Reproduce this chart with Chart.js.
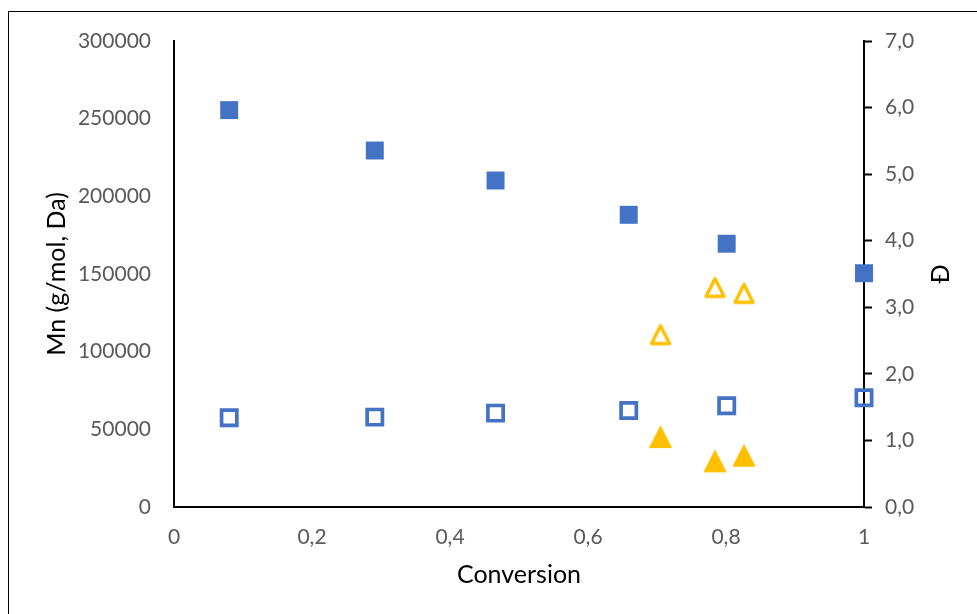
<!DOCTYPE html>
<html>
<head>
<meta charset="utf-8">
<script src="https://cdn.jsdelivr.net/npm/chart.js@4.4.1/dist/chart.umd.min.js"></script>
<style>
  html, body { margin: 0; padding: 0; background: #fff; overflow: hidden; }
  #wrap { position: relative; width: 977px; height: 614px; }
  #frame { position: absolute; left: 8px; top: 11px; width: 1200px; height: 800px;
           border-left: 1.5px solid #000; border-top: 1.5px solid #000; pointer-events: none; }
  canvas { position: absolute; left: 0; top: 0; }
</style>
</head>
<body>
<div id="wrap">
  <canvas id="c" width="977" height="614"></canvas>
  <div id="frame"></div>
</div>
<script>
// Conversion of the runs (x)
const convSquares   = [0.080, 0.291, 0.466, 0.659, 0.801, 1.000];
const convTriangles = [0.705, 0.784, 0.826];

// Number-average molar mass, g/mol (left axis)
const mnSquares   = [255500, 229500, 210200, 188100, 169500, 150500];
const mnTriangles = [45000, 29400, 33000];

// Dispersity Đ (right axis)
const dSquares   = [1.34, 1.35, 1.41, 1.45, 1.52, 1.64];
const dTriangles = [2.59, 3.30, 3.21];

// Tick labels
const convTickLabels = ['0', '0,2', '0,4', '0,6', '0,8', '1'];
const mnTickLabels   = ['0', '50000', '100000', '150000', '200000', '250000', '300000'];
const dTickLabels    = ['0,0', '1,0', '2,0', '3,0', '4,0', '5,0', '6,0', '7,0'];

const BLUE = '#4472C4';
const GOLD = '#FFC000';
const FONT = 'Lato, "Open Sans", sans-serif';

function pairs(xs, ys) { return xs.map((x, i) => ({ x: x, y: ys[i] })); }

// Triangle markers drawn into small canvases (base as wide as the marker is tall)
function triangleMarker(filled) {
  const s = 24, cv = document.createElement('canvas');
  cv.width = s; cv.height = s;
  const g = cv.getContext('2d');
  g.beginPath();
  if (filled) {
    g.moveTo(s / 2, 1.2); g.lineTo(s - 1.2, s - 1.5); g.lineTo(1.2, s - 1.5);
    g.closePath(); g.fillStyle = GOLD; g.lineJoin = 'round'; g.lineWidth = 1.2;
    g.strokeStyle = GOLD; g.fill(); g.stroke();
  } else {
    g.moveTo(s / 2, 3.2); g.lineTo(s - 3.0, s - 3.0); g.lineTo(3.0, s - 3.0);
    g.closePath(); g.strokeStyle = GOLD; g.lineWidth = 3.4; g.lineJoin = 'round'; g.stroke();
  }
  return cv;
}
const triFilled = triangleMarker(true);
const triOpen = triangleMarker(false);

// Right-axis title reads bottom-to-top like the left one
const rightTitle = {
  id: 'rightTitle',
  afterDraw(chart) {
    const s = chart.scales.yD, ctx = chart.ctx;
    ctx.save();
    ctx.translate(s.right - 36, (s.top + s.bottom) / 2);
    ctx.rotate(-Math.PI / 2);
    ctx.font = '25px ' + FONT;
    ctx.fillStyle = '#000';
    ctx.textAlign = 'center';
    ctx.textBaseline = 'middle';
    ctx.fillText('Đ', 0, 0);
    ctx.restore();
  }
};

new Chart(document.getElementById('c'), {
  type: 'scatter',
  data: {
    datasets: [
      { label: 'Mn', data: pairs(convSquares, mnSquares), yAxisID: 'yMn',
        pointStyle: 'rect', pointRadius: 12.7, backgroundColor: BLUE, borderWidth: 0, clip: false },
      { label: 'Đ', data: pairs(convSquares, dSquares), yAxisID: 'yD',
        pointStyle: 'rect', pointRadius: 10.8, backgroundColor: 'rgba(0,0,0,0)',
        borderColor: BLUE, borderWidth: 3.7, clip: false },
      { label: 'Mn', data: pairs(convTriangles, mnTriangles), yAxisID: 'yMn',
        pointStyle: triFilled, backgroundColor: GOLD, clip: false },
      { label: 'Đ', data: pairs(convTriangles, dTriangles), yAxisID: 'yD',
        pointStyle: triOpen, backgroundColor: GOLD, clip: false }
    ]
  },
  options: {
    responsive: false,
    animation: false,
    devicePixelRatio: 1,
    layout: { padding: { top: 41, left: 0, right: 0, bottom: 0 } },
    plugins: { legend: { display: false }, tooltip: { enabled: false } },
    scales: {
      x: {
        type: 'linear', position: 'bottom', min: 0, max: 1,
        afterFit(s) { s.height = 107; },
        grid: { display: false, drawTicks: false },
        border: { display: true, color: '#000', width: 2 },
        ticks: { stepSize: 0.2, padding: 18, color: '#595959', font: { family: FONT, size: 21 },
                 callback: (v, i) => convTickLabels[i] },
        title: { display: true, text: 'Conversion', color: '#000',
                 font: { family: FONT, size: 25 }, padding: { top: 0, bottom: 24 } }
      },
      yMn: {
        type: 'linear', position: 'left', min: 0, max: 300000,
        afterFit(s) { s.width = 174; },
        grid: { display: false, drawTicks: false },
        border: { display: true, color: '#000', width: 2 },
        ticks: { stepSize: 50000, padding: 23, color: '#595959', font: { family: FONT, size: 21 },
                 callback: (v, i) => mnTickLabels[i] },
        title: { display: true, text: 'Mn (g/mol, Da)', color: '#000',
                 font: { family: FONT, size: 25 }, padding: { top: 42, bottom: 0 } }
      },
      yD: {
        type: 'linear', position: 'right', min: 0, max: 7,
        afterFit(s) { s.width = 113; },
        grid: { display: true, drawOnChartArea: false, drawTicks: true, tickLength: 8,
                color: '#000', tickColor: '#000', tickWidth: 2 },
        border: { display: true, color: '#000', width: 2 },
        ticks: { stepSize: 1, padding: 13, color: '#595959', font: { family: FONT, size: 21 },
                 callback: (v, i) => dTickLabels[i] }
      }
    }
  },
  plugins: [rightTitle]
});
</script>
</body>
</html>
